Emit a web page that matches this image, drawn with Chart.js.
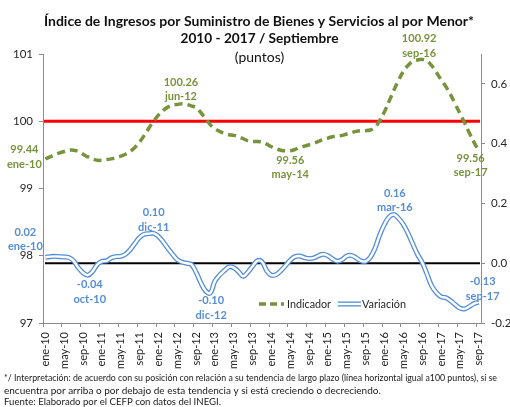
<!DOCTYPE html>
<html>
<head>
<meta charset="utf-8">
<script src="https://cdn.jsdelivr.net/npm/chart.js@4.4.0/dist/chart.umd.min.js"></script>
<style>
html,body{margin:0;padding:0;background:#fff;}
#wrap{position:relative;width:510px;height:407px;}
canvas{display:block;}
</style>
</head>
<body>
<div id="wrap"><canvas id="c" width="510" height="407"></canvas></div>
<script>
// ---------- DATA ----------
const MONTH_ABBR = ['ene','feb','mar','abr','may','jun','jul','ago','sep','oct','nov','dic'];
const YEARS = ['10','11','12','13','14','15','16','17'];
const LAST_MONTH_2017 = 9;
const CATEGORIES = [];
YEARS.forEach((y, yi) => {
  const n = (yi === YEARS.length - 1) ? LAST_MONTH_2017 : 12;
  for (let m = 0; m < n; m++) CATEGORIES.push(MONTH_ABBR[m] + '-' + y);
});

const INDICADOR = [
  99.44, 99.47, 99.50, 99.53, 99.55, 99.57, 99.57, 99.55, 99.51, 99.47, 99.44, 99.42,
  99.42, 99.43, 99.44, 99.46, 99.48, 99.51, 99.55, 99.61, 99.69, 99.79, 99.90, 100.00,
  100.09, 100.16, 100.21, 100.24, 100.25, 100.26, 100.25, 100.23, 100.20, 100.13, 100.04, 99.95,
  99.89, 99.85, 99.82, 99.80, 99.79, 99.77, 99.74, 99.71, 99.70, 99.70, 99.69, 99.66,
  99.62, 99.59, 99.57, 99.56, 99.56, 99.58, 99.61, 99.63, 99.65, 99.67, 99.70, 99.73,
  99.75, 99.77, 99.78, 99.79, 99.81, 99.83, 99.85, 99.86, 99.86, 99.87, 99.91, 100.01,
  100.14, 100.30, 100.46, 100.61, 100.74, 100.83, 100.89, 100.91, 100.92, 100.90, 100.83, 100.73,
  100.62, 100.52, 100.40, 100.26, 100.12, 99.98, 99.83, 99.69, 99.56
];

const VARIACION = [
  0.020, 0.022, 0.023, 0.022, 0.021, 0.019, 0.008, -0.015, -0.032, -0.040, -0.028, -0.005,
  0.006, 0.008, 0.018, 0.022, 0.023, 0.030, 0.045, 0.066, 0.086, 0.097, 0.099, 0.100,
  0.090, 0.072, 0.050, 0.030, 0.012, 0.004, 0.000, -0.004, -0.030, -0.065, -0.092, -0.100,
  -0.060, -0.040, -0.025, -0.012, -0.015, -0.028, -0.044, -0.030, -0.010, 0.008, 0.005, -0.025,
  -0.040, -0.038, -0.025, -0.008, 0.010, 0.022, 0.024, 0.019, 0.016, 0.018, 0.025, 0.030,
  0.025, 0.014, 0.007, 0.012, 0.024, 0.026, 0.018, 0.008, 0.006, 0.020, 0.050, 0.095,
  0.130, 0.155, 0.163, 0.150, 0.130, 0.100, 0.065, 0.030, 0.003, -0.035, -0.075, -0.098,
  -0.112, -0.115, -0.125, -0.138, -0.150, -0.153, -0.145, -0.135, -0.130
];

const LEFT_TICKS = [97, 98, 99, 100, 101];
const RIGHT_TICKS = [-0.2, 0.0, 0.2, 0.4, 0.6];
const LEFT_RANGE = [97, 101];
const RIGHT_RANGE = [-0.2, 0.7];
const TREND_LEVEL = 100;
const ZERO_LEVEL = 0;
const LABEL_EVERY = 4;

const IND_NOTE_IDX = [0, 29, 52, 80, 92];
const VAR_NOTE_IDX = [0, 9, 23, 35, 74, 92];

const TITLE_LINES = [
  'Índice de Ingresos por Suministro de Bienes y Servicios al por Menor*',
  '2010 - 2017 / Septiembre',
  '(puntos)'
];
const FOOT_LINES = [
  '*/ Interpretación: de acuerdo con su posición con relación a su tendencia de largo plazo (línea horizontal igual a100 puntos), si se',
  'encuentra por arriba o por debajo de esta tendencia y si está creciendo o decreciendo.',
  'Fuente: Elaborado por el CEFP con datos del INEGI.'
];
const SERIES_NAMES = ['Indicador', 'Variación'];

// ---------- STYLE ----------
const FONT = 'Lato, "Liberation Sans", sans-serif';
const GREEN = '#77933C';
const BLUE = '#558ED5';
const AXIS_GRAY = '#8c8c8c';
const TEXT = '#262626';

const IND_NOTE_OFF = { 0: [-21, -9], 29: [-1, -21.5], 52: [0, 9.5], 80: [-3, -20.5], 92: [-8, 7.5] };
const VAR_NOTE_OFF = { 0: [-20, -25], 9: [2, 9.5], 23: [0, -20.5], 35: [1, 7.5], 74: [1, -21.5], 92: [4, -20.5] };

const decorPlugin = {
  id: 'decor',
  beforeDatasetsDraw(chart) {
    const { ctx, chartArea: a, scales } = chart;
    ctx.save();
    const yr = scales.y.getPixelForValue(TREND_LEVEL);
    ctx.strokeStyle = '#FF0000'; ctx.lineWidth = 3;
    ctx.beginPath(); ctx.moveTo(a.left + 1, yr); ctx.lineTo(a.right - 1, yr); ctx.stroke();
    const yb = scales.y1.getPixelForValue(ZERO_LEVEL);
    ctx.strokeStyle = '#000000'; ctx.lineWidth = 2;
    ctx.beginPath(); ctx.moveTo(a.left + 2, yb); ctx.lineTo(a.right - 1, yb); ctx.stroke();
    ctx.restore();
  },
  afterDraw(chart) {
    const { ctx, scales } = chart;
    ctx.save();
    // title
    ctx.fillStyle = '#111';
    ctx.textAlign = 'center'; ctx.textBaseline = 'middle';
    ctx.font = 'bold 14px ' + FONT;
    ctx.fillText(TITLE_LINES[0], 259, 21, 432);
    ctx.fillText(TITLE_LINES[1], 259.5, 38.5, 158);
    ctx.font = '14px ' + FONT;
    ctx.fillText(TITLE_LINES[2], 259.5, 57, 54);

    // data notes
    ctx.font = 'bold 11px ' + FONT;
    const notes = (idxs, data, axis, color, offs) => {
      ctx.fillStyle = color;
      idxs.forEach(i => {
        const px = scales.x.getPixelForValue(i);
        const py = scales[axis].getPixelForValue(data[i]);
        const [dx, dy] = offs[i];
        ctx.fillText(data[i].toFixed(2), px + dx, py + dy);
        ctx.fillText(CATEGORIES[i], px + dx, py + dy + 14.5);
      });
    };
    notes(IND_NOTE_IDX, INDICADOR, 'y', GREEN, IND_NOTE_OFF);
    notes(VAR_NOTE_IDX, VARIACION, 'y1', BLUE, VAR_NOTE_OFF);

    // legend
    const ly = 304;
    ctx.strokeStyle = GREEN; ctx.lineWidth = 3.5; ctx.setLineDash([7, 4]);
    ctx.beginPath(); ctx.moveTo(259, ly); ctx.lineTo(284, ly); ctx.stroke();
    ctx.setLineDash([]);
    ctx.strokeStyle = BLUE; ctx.lineWidth = 5;
    ctx.beginPath(); ctx.moveTo(338, ly); ctx.lineTo(361, ly); ctx.stroke();
    ctx.strokeStyle = '#fff'; ctx.lineWidth = 2.4;
    ctx.beginPath(); ctx.moveTo(338, ly); ctx.lineTo(361, ly); ctx.stroke();
    ctx.fillStyle = TEXT; ctx.font = '11.5px ' + FONT; ctx.textAlign = 'left';
    ctx.fillText(SERIES_NAMES[0], 287, ly + 0.5, 44);
    ctx.fillText(SERIES_NAMES[1], 362, ly + 0.5, 44);

    // footnote
    ctx.fillStyle = '#1a1a1a'; ctx.font = '10px ' + FONT; ctx.textAlign = 'left';
    ctx.fillText(FOOT_LINES[0], 4, 378, 493);
    ctx.fillText(FOOT_LINES[1], 4, 390.5, 388);
    ctx.fillText(FOOT_LINES[2], 4, 402, 217);
    ctx.restore();
  }
};

new Chart(document.getElementById('c'), {
  type: 'line',
  data: {
    labels: CATEGORIES,
    datasets: [
      { label: SERIES_NAMES[0], data: INDICADOR, yAxisID: 'y', borderColor: GREEN, borderWidth: 3.5,
        borderDash: [8, 5], tension: 0.4, pointRadius: 0, fill: false, order: 3 },
      { label: SERIES_NAMES[1], data: VARIACION, yAxisID: 'y1', borderColor: BLUE, borderWidth: 5,
        tension: 0.4, pointRadius: 0, fill: false, order: 2 },
      { label: SERIES_NAMES[1] + ' ', data: VARIACION, yAxisID: 'y1', borderColor: '#ffffff', borderWidth: 2.4,
        tension: 0.4, pointRadius: 0, fill: false, order: 1 }
    ]
  },
  options: {
    responsive: false,
    animation: false,
    devicePixelRatio: 1,
    layout: { padding: { top: 54, left: 0, right: 0, bottom: 0 } },
    plugins: { legend: { display: false }, title: { display: false }, tooltip: { enabled: false } },
    scales: {
      x: {
        type: 'category', offset: true,
        grid: { offset: true, drawOnChartArea: false, drawTicks: true, tickLength: 4,
          tickColor: c => (c.index !== undefined && c.index % LABEL_EVERY === 0) ? AXIS_GRAY : 'rgba(0,0,0,0)' },
        border: { color: AXIS_GRAY, width: 1 },
        ticks: { autoSkip: false, maxRotation: 90, minRotation: 90, padding: 5,
          color: TEXT, font: { family: FONT, size: 11 },
          callback: (v, i) => (i % LABEL_EVERY === 0 ? CATEGORIES[i] : '') },
        afterFit: s => { s.height = 84; }
      },
      y: {
        position: 'left', min: LEFT_RANGE[0], max: LEFT_RANGE[1],
        grid: { drawOnChartArea: false, tickLength: 4, tickColor: AXIS_GRAY },
        border: { color: AXIS_GRAY, width: 1 },
        ticks: { color: TEXT, font: { family: FONT, size: 11.5 }, padding: 6, callback: v => String(v) },
        afterBuildTicks: s => { s.ticks = LEFT_TICKS.map(v => ({ value: v })); },
        afterFit: s => { s.width = 43; }
      },
      y1: {
        position: 'right', min: RIGHT_RANGE[0], max: RIGHT_RANGE[1],
        grid: { drawOnChartArea: false, tickLength: 4, tickColor: AXIS_GRAY },
        border: { color: AXIS_GRAY, width: 1 },
        ticks: { color: TEXT, font: { family: FONT, size: 11.5 }, padding: 6, callback: v => Number(v).toFixed(1) },
        afterBuildTicks: s => { s.ticks = RIGHT_TICKS.map(v => ({ value: v })); },
        afterFit: s => { s.width = 29; }
      }
    }
  },
  plugins: [decorPlugin]
});
</script>
</body>
</html>
